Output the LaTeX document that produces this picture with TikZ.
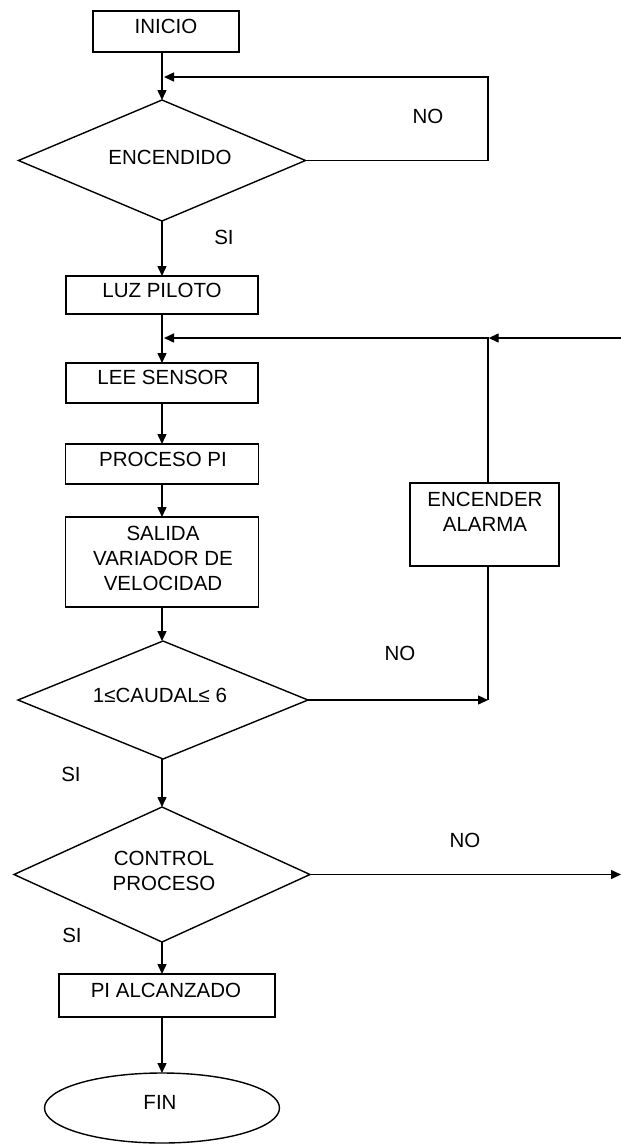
\documentclass[tikz,border=0pt]{standalone}
\usepackage{fontspec}
\setmainfont{Liberation Sans}
\usetikzlibrary{shapes.geometric,arrows.meta}

\begin{document}
\begin{tikzpicture}[x=1pt,y=-1pt,
  line width=1.4pt,
  >={Triangle[length=10pt,width=9pt]},
  proc/.style={draw,rectangle,inner sep=0pt,outer sep=0pt},
  decision/.style={draw,diamond,inner sep=0pt,outer sep=0pt},
  terminal/.style={draw,ellipse,inner sep=0pt,outer sep=0pt},
  txt/.style={inner sep=0pt,font=\fontsize{20.5}{25}\selectfont,text height=14.7pt,text depth=0pt},
  mtxt/.style={inner sep=0pt,font=\fontsize{20.5}{25}\selectfont,align=center,anchor=north},
]
\useasboundingbox (0,0) rectangle (621,1144);

% main column
\node[proc,minimum width=146pt,minimum height=41pt] (inicio) at (166,31.5) {};
\node[txt] (tInicio) at (166,26) {INICIO};

\node[decision,minimum width=287pt,minimum height=121pt] (encendido) at (162,160.5) {};
\node[txt] (tEncendido) at (170,157) {ENCENDIDO};

\node[proc,minimum width=192pt,minimum height=38pt] (luz) at (162,295) {};
\node[txt] (tLuz) at (162,290) {LUZ PILOTO};

\node[proc,minimum width=192pt,minimum height=40pt] (lee) at (162,383) {};
\node[txt] (tLee) at (163,377) {LEE SENSOR};

\node[proc,minimum width=193pt,minimum height=40pt] (procpi) at (162,464) {};
\node[txt] (tProc) at (163,459) {PROCESO PI};

\node[proc,minimum width=193pt,minimum height=90pt] (salida) at (162,562) {};
\node[mtxt] (tSalida) at (163,525.7) {SALIDA\\VARIADOR DE\\VELOCIDAD};

\node[decision,minimum width=290pt,minimum height=118pt] (caudal) at (163,700) {};
\node[txt] (tCaudal) at (160,695) {1≤CAUDAL≤ 6};

\node[decision,minimum width=296pt,minimum height=135pt] (control) at (162,874.5) {};
\node[mtxt] (tControl) at (164,850.7) {CONTROL\\PROCESO};

\node[proc,minimum width=216pt,minimum height=43pt] (alcanzado) at (167,995.5) {};
\node[txt] (tAlcanzado) at (166,990) {PI ALCANZADO};

\node[terminal,minimum width=235pt,minimum height=70pt] (fin) at (162,1108) {};
\node[txt] (tFin) at (160,1102) {FIN};

% alarm branch
\node[proc,minimum width=149pt,minimum height=83pt] (alarma) at (484.5,524.5) {};
\node[mtxt] (tAlarma) at (485,491.7) {ENCENDER\\ALARMA};

% branch labels
\node[txt] (noEnc) at (428,116) {NO};
\node[txt] (siEnc) at (224,237) {SI};
\node[txt] (noCau) at (400,653) {NO};
\node[txt] (siCau) at (71,774) {SI};
\node[txt] (noCtl) at (465,840) {NO};
\node[txt] (siCtl) at (72,935) {SI};

% junction points
\coordinate (encR) at (488,160.5);
\coordinate (encT) at (488,77);
\coordinate (encIn) at (164,77);
\coordinate (edgeIn) at (621,338);
\coordinate (jAl) at (488.7,338);
\coordinate (mainIn) at (164,338);
\coordinate (cauR) at (488,700);
\coordinate (ctrlOut) at (621,874.5);

% main flow
\draw[->] (inicio.south -| encendido.north) -- (encendido.north);
\draw[->] (encendido.south) -- (luz.north);
\draw[->] (luz.south) -- (lee.north);
\draw[->] (lee.south) -- (procpi.north);
\draw[->] (procpi.south) -- (salida.north);
\draw[->] (salida.south) -- (salida.south |- caudal.north);
\draw[->] (caudal.south -| control.north) -- (control.north);
\draw[->] (control.south) -- (control.south |- alcanzado.north);
\draw[->] (alcanzado.south -| fin.north) -- (fin.north);

% loops and exits
\draw[->] (encendido.east) -- (encR) -- (encT) -- (encIn);
\draw[->] (edgeIn) -- (jAl);
\draw[->] (jAl) -- (mainIn);
\draw (alarma.north -| encR) -- (jAl -| encR);
\draw[->] (caudal.east) -- (cauR);
\draw (cauR) -- (alarma.south -| cauR);
\draw[->] (control.east) -- (ctrlOut);
\end{tikzpicture}
\end{document}
